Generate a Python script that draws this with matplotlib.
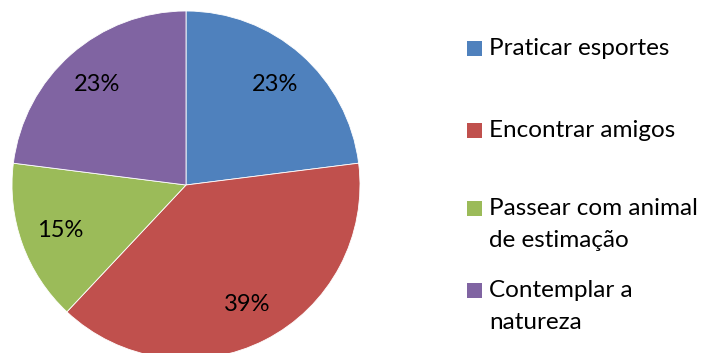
import matplotlib
matplotlib.use("Agg")
import matplotlib.pyplot as plt
from matplotlib.patches import Rectangle

plt.rcParams['font.family'] = ['Lato', 'DejaVu Sans']

labels = ['Praticar esportes', 'Encontrar amigos', 'Passear com animal\nde estimação', 'Contemplar a\nnatureza']
values = [23, 39, 15, 23]
colors = ['#4F81BD', '#C0504D', '#9BBB59', '#8064A2']

fig = plt.figure(figsize=(7.04, 3.53), dpi=100)
W, H = 704, 353
# pie axes: centre around (186,185) px, radius 174 px
r = 174
cx, cy = 186, 185
ax = fig.add_axes([(cx - r) / W, (H - cy - r) / H, 2 * r / W, 2 * r / H])
ax.pie(values, colors=colors, startangle=90, counterclock=False,
       autopct='%d%%', pctdistance=0.77, radius=1,
       wedgeprops=dict(edgecolor='white', linewidth=0.6),
       textprops=dict(fontsize=17, color='black'))
ax.set_xlim(-1, 1)
ax.set_ylim(-1, 1)
ax.set_aspect('equal')
ax.axis('off')

# legend drawn by hand (multi-line labels, marker on first line)
ys = [48, 130, 208, 290]
for lab, col, y in zip(labels, colors, ys):
    fig.add_artist(Rectangle(((467) / W, (H - y - 7.5) / H), 15 / W, 15 / H,
                             transform=fig.transFigure, facecolor=col, edgecolor='none'))
    fig.text(489 / W, (H - y + 10) / H, lab, fontsize=17.5, va='top', ha='left',
             linespacing=1.62, transform=fig.transFigure)

fig.savefig('out.png', dpi=100)
